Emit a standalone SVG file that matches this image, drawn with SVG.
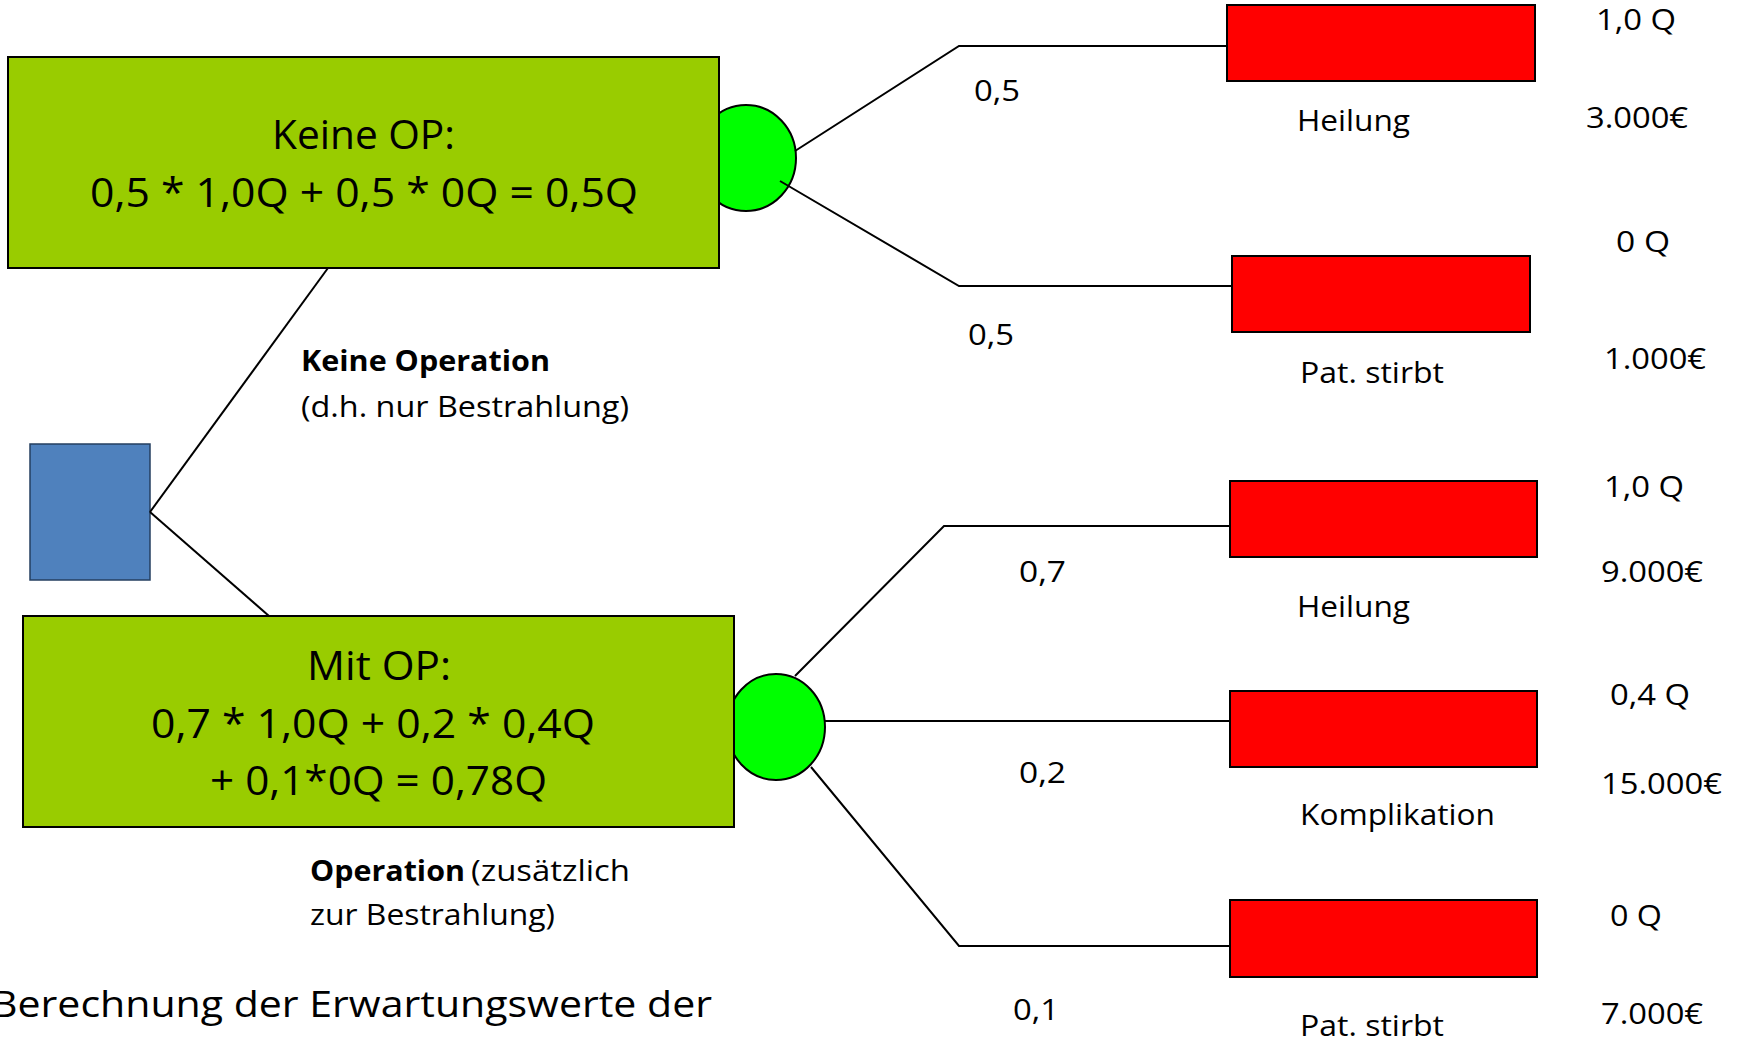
<svg xmlns="http://www.w3.org/2000/svg" width="1738" height="1038" viewBox="0 0 1738 1038">
<style>
text { font-family: "Open Sans", "Noto Sans", "DejaVu Sans", sans-serif; fill: #000; }
.big { font-size: 40px; }
.lbl { font-size: 29px; }
.sub { font-size: 29px; }
.title { font-size: 37px; }
.b { font-weight: bold; }
.calc { fill: #99CC00; stroke: #000; stroke-width: 2; }
.chance { fill: #00FF00; stroke: #000; stroke-width: 2; }
.end { fill: #FF0000; stroke: #000; stroke-width: 2; }
.dec { fill: #4F81BD; stroke: #243F60; stroke-width: 1.5; }
.con { fill: none; stroke: #000; stroke-width: 2; }
</style>

<g id="decision">
  <rect class="dec" x="30" y="444" width="120" height="136"/>
</g>

<g id="chance-keine-op">
  <ellipse class="chance" cx="746" cy="158" rx="50" ry="53"/>
</g>
<g id="chance-mit-op">
  <ellipse class="chance" cx="776" cy="727" rx="49" ry="53"/>
</g>

<g id="node-keine-op">
  <rect class="calc" x="8" y="57" width="711" height="211"/>
  <text class="big" x="272" y="149" textLength="183" lengthAdjust="spacingAndGlyphs">Keine OP:</text>
  <text class="big" x="90" y="207" textLength="548" lengthAdjust="spacingAndGlyphs">0,5 * 1,0Q + 0,5 * 0Q = 0,5Q</text>
</g>

<g id="node-mit-op">
  <rect class="calc" x="23" y="616" width="711" height="211"/>
  <text class="big" x="307" y="680" textLength="144" lengthAdjust="spacingAndGlyphs">Mit OP:</text>
  <text class="big" x="151" y="738" textLength="444" lengthAdjust="spacingAndGlyphs">0,7 * 1,0Q + 0,2 * 0,4Q</text>
  <text class="big" x="210" y="795" textLength="337" lengthAdjust="spacingAndGlyphs">+ 0,1*0Q = 0,78Q</text>
</g>

<g id="end-heilung-1">
  <rect class="end" x="1227" y="5" width="308" height="76"/>
  <text class="lbl" x="1297" y="131" textLength="113" lengthAdjust="spacingAndGlyphs">Heilung</text>
  <text class="lbl" x="1596" y="30" textLength="80" lengthAdjust="spacingAndGlyphs">1,0 Q</text>
  <text class="lbl" x="1586" y="128" textLength="102" lengthAdjust="spacingAndGlyphs">3.000€</text>
</g>
<g id="end-stirbt-1">
  <rect class="end" x="1232" y="256" width="298" height="76"/>
  <text class="lbl" x="1300" y="383" textLength="144" lengthAdjust="spacingAndGlyphs">Pat. stirbt</text>
  <text class="lbl" x="1616" y="252" textLength="54" lengthAdjust="spacingAndGlyphs">0 Q</text>
  <text class="lbl" x="1604" y="369" textLength="102" lengthAdjust="spacingAndGlyphs">1.000€</text>
</g>
<g id="end-heilung-2">
  <rect class="end" x="1230" y="481" width="307" height="76"/>
  <text class="lbl" x="1297" y="617" textLength="113" lengthAdjust="spacingAndGlyphs">Heilung</text>
  <text class="lbl" x="1604" y="497" textLength="80" lengthAdjust="spacingAndGlyphs">1,0 Q</text>
  <text class="lbl" x="1601" y="582" textLength="102" lengthAdjust="spacingAndGlyphs">9.000€</text>
</g>
<g id="end-komplikation">
  <rect class="end" x="1230" y="691" width="307" height="76"/>
  <text class="lbl" x="1300" y="825" textLength="195" lengthAdjust="spacingAndGlyphs">Komplikation</text>
  <text class="lbl" x="1610" y="705" textLength="80" lengthAdjust="spacingAndGlyphs">0,4 Q</text>
  <text class="lbl" x="1601" y="794" textLength="121" lengthAdjust="spacingAndGlyphs">15.000€</text>
</g>
<g id="end-stirbt-2">
  <rect class="end" x="1230" y="900" width="307" height="77"/>
  <text class="lbl" x="1300" y="1036" textLength="144" lengthAdjust="spacingAndGlyphs">Pat. stirbt</text>
  <text class="lbl" x="1610" y="926" textLength="52" lengthAdjust="spacingAndGlyphs">0 Q</text>
  <text class="lbl" x="1601" y="1024" textLength="102" lengthAdjust="spacingAndGlyphs">7.000€</text>
</g>

<g id="connectors">
  <polyline class="con" points="150,512 328,268"/>
  <polyline class="con" points="150,512 269,616"/>
  <polyline class="con" points="795,151 959,46 1227,46"/>
  <polyline class="con" points="780,181 959,286 1232,286"/>
  <polyline class="con" points="795,676 944,526 1230,526"/>
  <polyline class="con" points="825,721 1230,721"/>
  <polyline class="con" points="811,767 959,946 1230,946"/>
</g>

<g id="connector-labels">
  <text class="lbl" x="974" y="101" textLength="46" lengthAdjust="spacingAndGlyphs">0,5</text>
  <text class="lbl" x="968" y="345" textLength="46" lengthAdjust="spacingAndGlyphs">0,5</text>
  <text class="lbl" x="1019" y="582" textLength="47" lengthAdjust="spacingAndGlyphs">0,7</text>
  <text class="lbl" x="1019" y="783" textLength="47" lengthAdjust="spacingAndGlyphs">0,2</text>
  <text class="lbl" x="1013" y="1020" textLength="46" lengthAdjust="spacingAndGlyphs">0,1</text>
  <text class="sub b" x="301" y="371" textLength="249" lengthAdjust="spacingAndGlyphs">Keine Operation</text>
  <text class="sub" x="301" y="417" textLength="328" lengthAdjust="spacingAndGlyphs">(d.h. nur Bestrahlung)</text>
  <text class="sub"><tspan class="b" x="310" y="881" textLength="155" lengthAdjust="spacingAndGlyphs">Operation</tspan><tspan x="471" y="881" textLength="159" lengthAdjust="spacingAndGlyphs">(zusätzlich</tspan></text>
  <text class="sub" x="310" y="925" textLength="245" lengthAdjust="spacingAndGlyphs">zur Bestrahlung)</text>
</g>

<text class="title" x="-9" y="1017" textLength="721" lengthAdjust="spacingAndGlyphs">Berechnung der Erwartungswerte der</text>
</svg>
